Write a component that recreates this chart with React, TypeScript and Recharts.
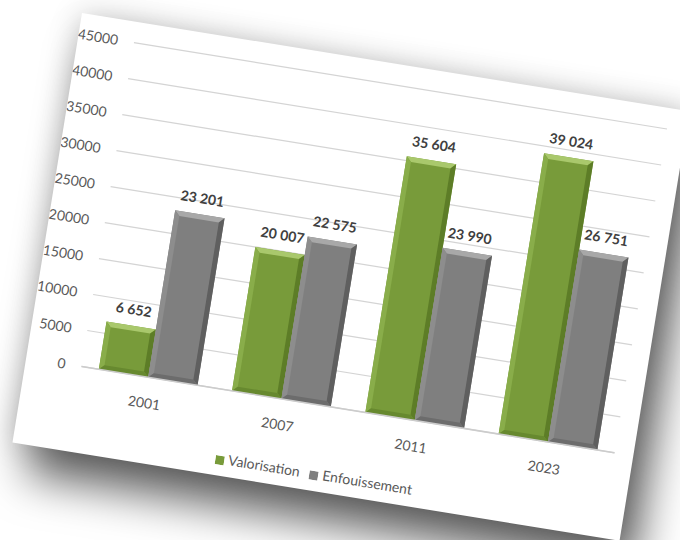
import React from 'react';
import { BarChart, Bar, XAxis, YAxis, CartesianGrid, Legend, LabelList } from 'recharts';

const years = ['2001', '2007', '2011', '2023'];
const valorisation = [6652, 20007, 35604, 39024];
const enfouissement = [23201, 22575, 23990, 26751];
const yTicks = [0, 5000, 10000, 15000, 20000, 25000, 30000, 35000, 40000, 45000];
const seriesOrder = ['Valorisation', 'Enfouissement'];

const data = years.map((year, i) => ({
  year,
  Valorisation: valorisation[i],
  Enfouissement: enfouissement[i],
}));

const GREEN = { base: '#789b3a', top: '#a9c86c', left: '#89ad4a', right: '#5d7d27', bottom: '#67892f' };
const GRAY = { base: '#7f7f7f', top: '#a8a8a8', left: '#8d8d8d', right: '#5f5f5f', bottom: '#6c6c6c' };

const fmt = (v: any) => String(v).replace(/\B(?=(\d{3})+(?!\d))/g, ' ');

function BevelBar(props: any) {
  const { x, y, width, height, tone } = props;
  if (!height || height <= 0) return null;
  const b = Math.min(5, width / 4, height / 4);
  const x2 = x + width;
  const y2 = y + height;
  return (
    <g>
      <rect x={x} y={y} width={width} height={height} fill={tone.base} />
      <polygon points={`${x},${y} ${x2},${y} ${x2 - b},${y + b} ${x + b},${y + b}`} fill={tone.top} />
      <polygon points={`${x},${y} ${x + b},${y + b} ${x + b},${y2 - b} ${x},${y2}`} fill={tone.left} />
      <polygon points={`${x2},${y} ${x2},${y2} ${x2 - b},${y2 - b} ${x2 - b},${y + b}`} fill={tone.right} />
      <polygon points={`${x},${y2} ${x + b},${y2 - b} ${x2 - b},${y2 - b} ${x2},${y2}`} fill={tone.bottom} />
    </g>
  );
}

export default function App() {
  const font = 'Lato, "Open Sans", sans-serif';
  return (
    <div style={{ position: 'fixed', top: 0, left: 0, width: 680, height: 540, overflow: 'hidden', background: '#fff' }}>
      <div
        style={{
          position: 'absolute',
          left: 82,
          top: 13,
          width: 615,
          height: 435,
          background: '#fff',
          transformOrigin: '0 0',
          transform: 'rotate(9.2deg)',
          boxShadow: '18px 30px 44px rgba(0,0,0,0.6), 0 0 30px rgba(0,0,0,0.2)',
          fontFamily: font,
        }}
      >
        <BarChart
          width={615}
          height={435}
          data={data}
          margin={{ top: 21, right: 19, left: 0, bottom: 30 }}
          barCategoryGap="13%"
          barGap={0}
        >
          <CartesianGrid vertical={false} stroke="#d4d4d4" strokeWidth={1.2} />
          <XAxis
            dataKey="year"
            axisLine={{ stroke: '#cccccc', strokeWidth: 1.5 }}
            tickLine={false}
            tickMargin={15}
            height={56}
            tick={{ fill: '#595959', fontSize: 14, fontFamily: font }}
          />
          <YAxis
            domain={[0, 45000]}
            ticks={yTicks}
            axisLine={false}
            tickLine={false}
            tickMargin={10}
            width={56}
            interval={0}
            tick={{ fill: '#595959', fontSize: 14, fontFamily: font }}
          />
          <Legend
            verticalAlign="middle"
            align="center"
            iconType="square"
            iconSize={9}
            itemSorter={(item: any) => seriesOrder.indexOf(item.value)}
            wrapperStyle={{ top: 409, left: 0, width: 615, fontSize: 14, fontFamily: font }}
            formatter={(value: any) => <span style={{ color: '#595959' }}>{value}</span>}
          />
          <Bar
            dataKey="Valorisation"
            fill={GREEN.base}
            isAnimationActive={false}
            shape={(p: any) => <BevelBar {...p} tone={GREEN} />}
          >
            <LabelList dataKey="Valorisation" position="top" offset={11} formatter={fmt} fill="#404040" fontSize={14} fontWeight="bold" fontFamily={font} />
          </Bar>
          <Bar
            dataKey="Enfouissement"
            fill={GRAY.base}
            isAnimationActive={false}
            shape={(p: any) => <BevelBar {...p} tone={GRAY} />}
          >
            <LabelList dataKey="Enfouissement" position="top" offset={11} formatter={fmt} fill="#404040" fontSize={14} fontWeight="bold" fontFamily={font} />
          </Bar>
        </BarChart>
      </div>
    </div>
  );
}
